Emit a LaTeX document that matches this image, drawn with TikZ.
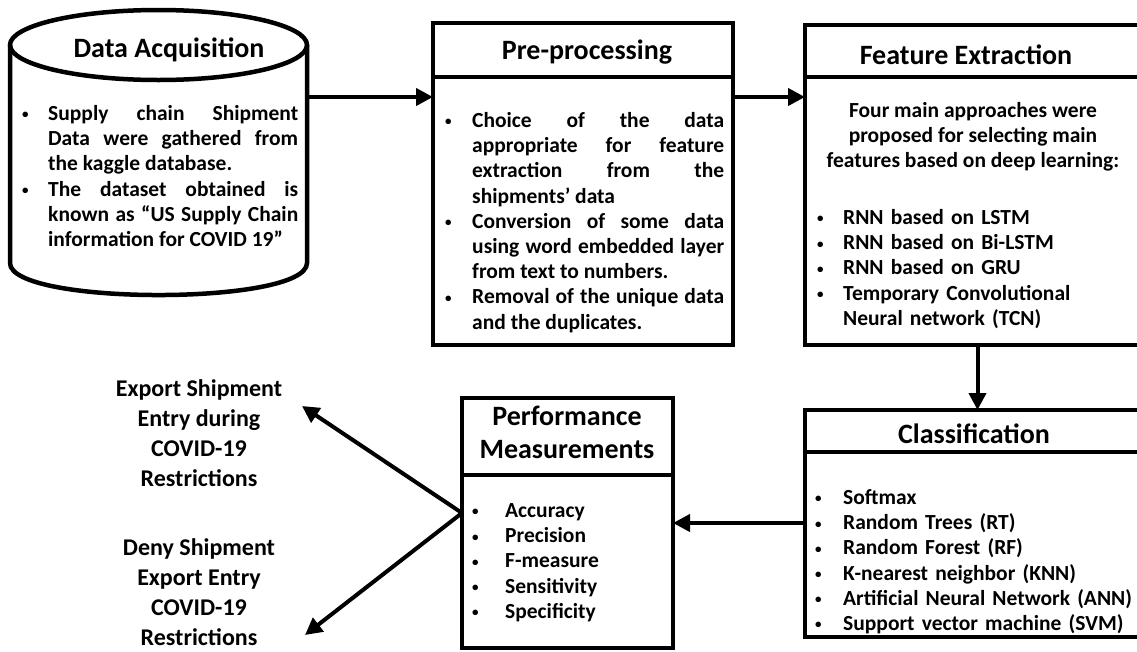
\documentclass[tikz,border=0pt]{standalone}
\usepackage{fontspec}
\setmainfont{Carlito}
\usetikzlibrary{arrows.meta}
\newcommand\smallbullet{\raisebox{1.5pt}{\fontsize{13}{13}\selectfont •}}
\newcommand\bitem[2]{\par\hangindent=#1\hangafter=1\noindent\makebox[#1][l]{\smallbullet}\rule{0pt}{18pt}#2}
\tikzset{
  frame/.style={draw, line width=4.5pt, inner sep=0pt, outer sep=0pt, anchor=north west},
  conn/.style={line width=4pt, -{Triangle[length=17pt,width=17pt]}},
  ttl/.style={font=\fontsize{28}{33}\selectfont\bfseries, anchor=base, inner sep=0pt},
  bodytxt/.style={font=\fontsize{21.5}{25.2}\selectfont\bfseries, anchor=north west, inner sep=0pt},
  side/.style={font=\fontsize{24}{30}\selectfont\bfseries, anchor=north, inner sep=0pt, align=center},
  jst/.style={align=justify, execute at begin node={\tolerance=10000\hbadness=10000\hyphenpenalty=10000}},
}
\begin{document}
\begin{tikzpicture}[x=1pt,y=-1pt]
\useasboundingbox (0,0) rectangle (1137,651);
% cylinder (Data Acquisition)
\draw[line width=4.5pt] (10,45) -- (10,263) .. controls (10,305.7) and (307,305.7) .. (307,263) -- (307,45);
\draw[line width=4.5pt] (158.5,45) ellipse [x radius=148.5, y radius=35];
\node[ttl] (acqT) at (169,57) {Data Acquisition};
\node[bodytxt, jst, text width=276pt] (acqB) at (22,95) {%
\bitem{26pt}{Supply chain Shipment\linebreak Data were gathered from\linebreak the kaggle database.}
\bitem{26pt}{The dataset obtained is\linebreak known as “US Supply Chain\linebreak information for COVID 19”}\par};
\coordinate (acqR) at (307,97);
% Pre-processing
\node[frame, minimum width=300pt, minimum height=54pt] (preT) at (433,23) {};
\node[frame, minimum width=300pt, minimum height=268pt] (preB) at (433,77) {};
\node[ttl] (preTx) at (587,59) {Pre-processing};
\node[bodytxt, jst, text width=279pt] (preTxt) at (445,102) {%
\bitem{27pt}{Choice of the data\linebreak appropriate for feature\linebreak extraction from the\linebreak shipments’ data}
\bitem{27pt}{Conversion of some data\linebreak using word embedded layer\linebreak from text to numbers.}
\bitem{27pt}{Removal of the unique data\linebreak and the duplicates.}\par};
% Feature Extraction
\node[frame, minimum width=345pt, minimum height=52pt] (featT) at (805,25) {};
\node[frame, minimum width=345pt, minimum height=268pt] (featB) at (805,77) {};
\node[ttl] (featTx) at (966,64) {Feature Extraction};
\node[bodytxt, anchor=north, align=center] (featIntro) at (973,99) {\rule{0pt}{18pt}Four main approaches were\\proposed for selecting main\\features based on deep learning:};
\node[bodytxt, align=left, text width=310pt] (featList) at (817,199) {%
\bitem{26pt}{RNN based on LSTM}
\bitem{26pt}{RNN based on Bi-LSTM}
\bitem{26pt}{RNN based on GRU}
\bitem{26pt}{Temporary Convolutional\newline Neural network (TCN)}\par};
% Classification
\node[frame, minimum width=345pt, minimum height=42pt] (clsT) at (805,410) {};
\node[frame, minimum width=345pt, minimum height=185pt] (clsB) at (805,452) {};
\node[ttl] (clsTx) at (974,443) {Classification};
\node[bodytxt, align=left, text width=320pt] (clsList) at (815,479) {%
\bitem{28pt}{Softmax}
\bitem{28pt}{Random Trees (RT)}
\bitem{28pt}{Random Forest (RF)}
\bitem{28pt}{K-nearest neighbor (KNN)}
\bitem{28pt}{Artificial Neural Network (ANN)}
\bitem{28pt}{Support vector machine (SVM)}\par};
% Performance Measurements
\node[frame, minimum width=211pt, minimum height=77pt] (perfT) at (462,398) {};
\node[frame, minimum width=211pt, minimum height=173pt] (perfB) at (462,475) {};
\node[ttl, anchor=north, align=center] (perfTx) at (567,403) {\rule{0pt}{22pt}Performance\\Measurements};
\node[bodytxt, align=left, text width=200pt] (perfList) at (472,492) {%
\bitem{33pt}{Accuracy}
\bitem{33pt}{Precision}
\bitem{33pt}{F-measure}
\bitem{33pt}{Sensitivity}
\bitem{33pt}{Specificity}\par};
% side labels
\node[side] (exportLbl) at (199,377) {\rule{0pt}{19pt}Export Shipment\\Entry during\\COVID-19\\Restrictions};
\node[side] (denyLbl) at (199,536) {\rule{0pt}{19pt}Deny Shipment\\Export Entry\\COVID-19\\Restrictions};
\coordinate (expTip) at (302,406);
\coordinate (denyTip) at (305,635);
\coordinate (perfOut) at (462,513);
\coordinate (clsY) at (0,523);
% connectors
\draw[conn] (acqR) -- (preB.west |- acqR);
\draw[conn] (preB.east |- acqR) -- (featB.west |- acqR);
\draw[conn] (featB.south) -- (clsT.north);
\draw[conn] (clsB.west |- clsY) -- (perfB.east |- clsY);
\draw[conn] (perfOut) -- (expTip);
\draw[conn] (perfOut) -- (denyTip);
\end{tikzpicture}
\end{document}
